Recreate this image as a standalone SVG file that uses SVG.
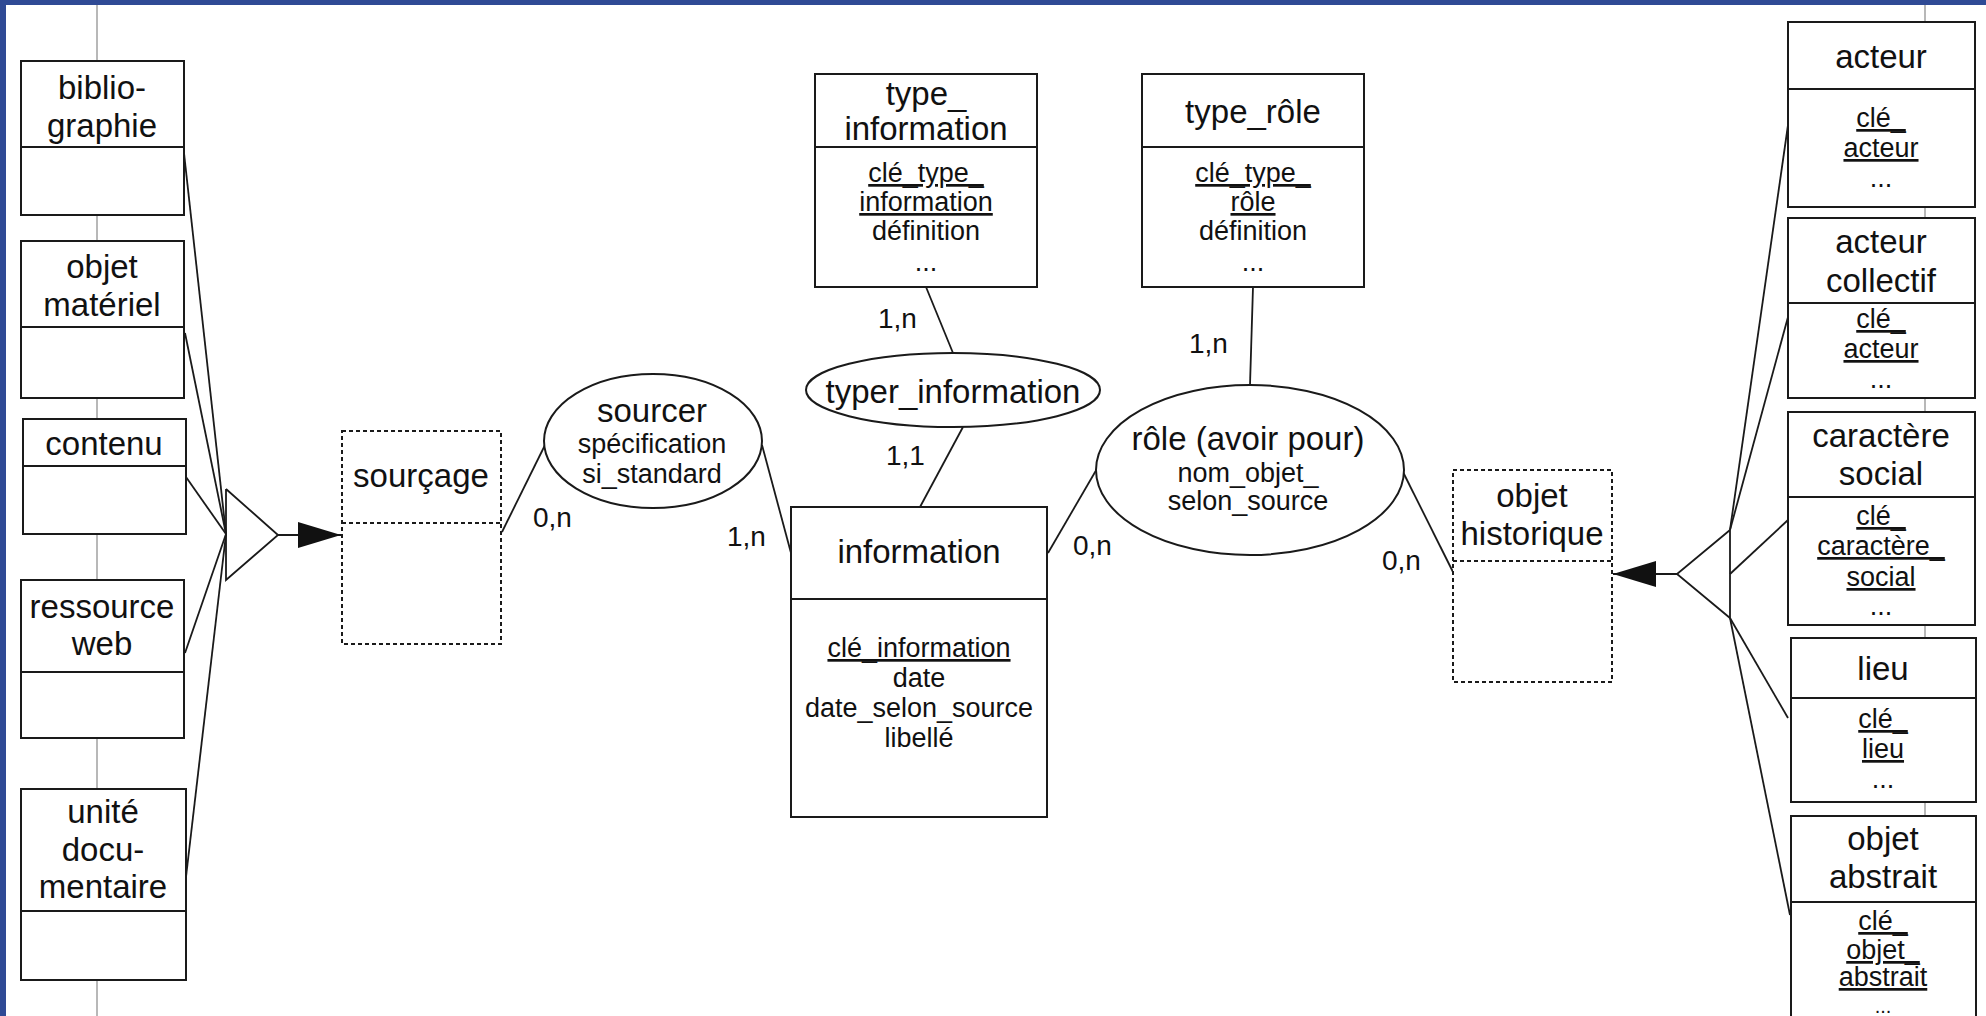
<svg xmlns="http://www.w3.org/2000/svg" width="1986" height="1016" viewBox="0 0 1986 1016">
<defs>
<style>
.bx{fill:#fff;stroke:#1a1a1a;stroke-width:2}
.ds{fill:#fff;stroke:#1a1a1a;stroke-width:2;stroke-dasharray:4 3}
.dv{stroke:#1a1a1a;stroke-width:2}
.dvd{stroke:#1a1a1a;stroke-width:2;stroke-dasharray:4 3}
.t{font-family:'Liberation Sans',Arial,sans-serif;font-size:33px;fill:#111;text-anchor:middle}
.a{font-family:'Liberation Sans',Arial,sans-serif;font-size:27px;fill:#111;text-anchor:middle}
.u{text-decoration:underline}
.lb{font-family:'Liberation Sans',Arial,sans-serif;font-size:28px;fill:#111}
.c{stroke:#1a1a1a;stroke-width:1.8;fill:none}
.g{stroke:#a0a0a0;stroke-width:1.5}
</style>
<marker id="arr" markerUnits="userSpaceOnUse" markerWidth="44" markerHeight="28" refX="43" refY="14" orient="auto">
<path d="M0,1 L43,14 L0,27 z" fill="#111"/>
</marker>
</defs>
<rect width="1986" height="1016" fill="#fff"/>
<rect x="0" y="0" width="1986" height="5" fill="#2f4a95"/>
<rect x="0" y="0" width="6" height="1016" fill="#2f4a95"/>
<line class="g" x1="97" y1="5" x2="97" y2="1016"/>
<line class="g" x1="1925" y1="5" x2="1925" y2="1016"/>

<g id="connectors">
<line class="c" x1="184" y1="153" x2="226" y2="534"/>
<line class="c" x1="185" y1="333" x2="226" y2="534"/>
<line class="c" x1="186" y1="477" x2="226" y2="534"/>
<line class="c" x1="185" y1="653" x2="226" y2="534"/>
<line class="c" x1="186" y1="877" x2="226" y2="534"/>
<polyline class="c" points="226,489 278,535 226,580 226,489"/>
<line class="c" x1="278" y1="535" x2="341" y2="535" marker-end="url(#arr)"/>

<line class="c" x1="1788" y1="125" x2="1730" y2="530"/>
<line class="c" x1="1788" y1="317" x2="1730" y2="530"/>
<line class="c" x1="1788" y1="520" x2="1730" y2="574"/>
<line class="c" x1="1788" y1="718" x2="1730" y2="618"/>
<line class="c" x1="1790" y1="915" x2="1730" y2="618"/>
<polyline class="c" points="1730,530 1677,574 1730,618 1730,530"/>
<line class="c" x1="1677" y1="574" x2="1613" y2="574" marker-end="url(#arr)"/>

<line class="c" x1="502" y1="532" x2="546" y2="443"/>
<line class="c" x1="762" y1="445" x2="791" y2="553"/>
<line class="c" x1="926" y1="287" x2="953" y2="353"/>
<line class="c" x1="963" y1="427" x2="920" y2="507"/>
<line class="c" x1="1253" y1="287" x2="1250" y2="385"/>
<line class="c" x1="1048" y1="553" x2="1098" y2="467"/>
<line class="c" x1="1402" y1="470" x2="1453" y2="572"/>

<text class="lb" x="533" y="527">0,n</text>
<text class="lb" x="727" y="546">1,n</text>
<text class="lb" x="878" y="328">1,n</text>
<text class="lb" x="886" y="465">1,1</text>
<text class="lb" x="1189" y="353">1,n</text>
<text class="lb" x="1073" y="555">0,n</text>
<text class="lb" x="1382" y="570">0,n</text>
</g>

<g id="bibliographie">
<rect class="bx" x="21" y="61" width="163" height="154"/>
<line class="dv" x1="21" y1="147" x2="184" y2="147"/>
<text class="t" x="102" y="99">biblio-</text>
<text class="t" x="102" y="137">graphie</text>
</g>
<g id="objet_materiel">
<rect class="bx" x="21" y="241" width="163" height="157"/>
<line class="dv" x1="21" y1="327" x2="184" y2="327"/>
<text class="t" x="102" y="278">objet</text>
<text class="t" x="102" y="316">matériel</text>
</g>
<g id="contenu">
<rect class="bx" x="23" y="419" width="163" height="115"/>
<line class="dv" x1="23" y1="466" x2="186" y2="466"/>
<text class="t" x="104" y="455">contenu</text>
</g>
<g id="ressource_web">
<rect class="bx" x="21" y="580" width="163" height="158"/>
<line class="dv" x1="21" y1="672" x2="184" y2="672"/>
<text class="t" x="102" y="618">ressource</text>
<text class="t" x="102" y="655">web</text>
</g>
<g id="unite_documentaire">
<rect class="bx" x="21" y="789" width="165" height="191"/>
<line class="dv" x1="21" y1="911" x2="186" y2="911"/>
<text class="t" x="103" y="823">unité</text>
<text class="t" x="103" y="861">docu-</text>
<text class="t" x="103" y="898">mentaire</text>
</g>

<g id="sourcage">
<rect class="ds" x="342" y="431" width="159" height="213"/>
<line class="dvd" x1="342" y1="523" x2="501" y2="523"/>
<text class="t" x="421" y="487">sourçage</text>
</g>

<g id="sourcer">
<ellipse class="bx" cx="653" cy="441" rx="109" ry="67"/>
<text class="t" x="652" y="422">sourcer</text>
<text class="a" x="652" y="453">spécification</text>
<text class="a" x="652" y="483">si_standard</text>
</g>

<g id="type_information">
<rect class="bx" x="815" y="74" width="222" height="213"/>
<line class="dv" x1="815" y1="147" x2="1037" y2="147"/>
<text class="t" x="926" y="105">type_</text>
<text class="t" x="926" y="140">information</text>
<text class="a u" x="926" y="182">clé_type_</text>
<text class="a u" x="926" y="211">information</text>
<text class="a" x="926" y="240">définition</text>
<text class="a" x="926" y="271">...</text>
</g>

<g id="typer_information">
<ellipse class="bx" cx="953" cy="390" rx="147" ry="37"/>
<text class="t" x="953" y="403">typer_information</text>
</g>

<g id="information">
<rect class="bx" x="791" y="507" width="256" height="310"/>
<line class="dv" x1="791" y1="599" x2="1047" y2="599"/>
<text class="t" x="919" y="563">information</text>
<text class="a u" x="919" y="657">clé_information</text>
<text class="a" x="919" y="687">date</text>
<text class="a" x="919" y="717">date_selon_source</text>
<text class="a" x="919" y="747">libellé</text>
</g>

<g id="type_role">
<rect class="bx" x="1142" y="74" width="222" height="213"/>
<line class="dv" x1="1142" y1="147" x2="1364" y2="147"/>
<text class="t" x="1253" y="123">type_rôle</text>
<text class="a u" x="1253" y="182">clé_type_</text>
<text class="a u" x="1253" y="211">rôle</text>
<text class="a" x="1253" y="240">définition</text>
<text class="a" x="1253" y="271">...</text>
</g>

<g id="role">
<ellipse class="bx" cx="1250" cy="470" rx="154" ry="85"/>
<text class="t" x="1248" y="450">rôle (avoir pour)</text>
<text class="a" x="1248" y="482">nom_objet_</text>
<text class="a" x="1248" y="510">selon_source</text>
</g>

<g id="objet_historique">
<rect class="ds" x="1453" y="470" width="159" height="212"/>
<line class="dvd" x1="1453" y1="561" x2="1612" y2="561"/>
<text class="t" x="1532" y="507">objet</text>
<text class="t" x="1532" y="545">historique</text>
</g>

<g id="acteur">
<rect class="bx" x="1788" y="22" width="187" height="185"/>
<line class="dv" x1="1788" y1="89" x2="1975" y2="89"/>
<text class="t" x="1881" y="68">acteur</text>
<text class="a u" x="1881" y="127">clé_</text>
<text class="a u" x="1881" y="157">acteur</text>
<text class="a" x="1881" y="187">...</text>
</g>
<g id="acteur_collectif">
<rect class="bx" x="1788" y="218" width="187" height="180"/>
<line class="dv" x1="1788" y1="303" x2="1975" y2="303"/>
<text class="t" x="1881" y="253">acteur</text>
<text class="t" x="1881" y="292">collectif</text>
<text class="a u" x="1881" y="328">clé_</text>
<text class="a u" x="1881" y="358">acteur</text>
<text class="a" x="1881" y="388">...</text>
</g>
<g id="caractere_social">
<rect class="bx" x="1788" y="412" width="187" height="213"/>
<line class="dv" x1="1788" y1="497" x2="1975" y2="497"/>
<text class="t" x="1881" y="447">caractère</text>
<text class="t" x="1881" y="485">social</text>
<text class="a u" x="1881" y="525">clé_</text>
<text class="a u" x="1881" y="555">caractère_</text>
<text class="a u" x="1881" y="586">social</text>
<text class="a" x="1881" y="615">...</text>
</g>
<g id="lieu">
<rect class="bx" x="1791" y="638" width="185" height="164"/>
<line class="dv" x1="1791" y1="698" x2="1976" y2="698"/>
<text class="t" x="1883" y="680">lieu</text>
<text class="a u" x="1883" y="728">clé_</text>
<text class="a u" x="1883" y="758">lieu</text>
<text class="a" x="1883" y="788">...</text>
</g>
<g id="objet_abstrait">
<rect class="bx" x="1791" y="816" width="185" height="220"/>
<line class="dv" x1="1791" y1="902" x2="1976" y2="902"/>
<text class="t" x="1883" y="850">objet</text>
<text class="t" x="1883" y="888">abstrait</text>
<text class="a u" x="1883" y="930">clé_</text>
<text class="a u" x="1883" y="959">objet_</text>
<text class="a u" x="1883" y="986">abstrait</text>
<text class="a" x="1883" y="1013" style="font-size:20px">...</text>
</g>
</svg>
